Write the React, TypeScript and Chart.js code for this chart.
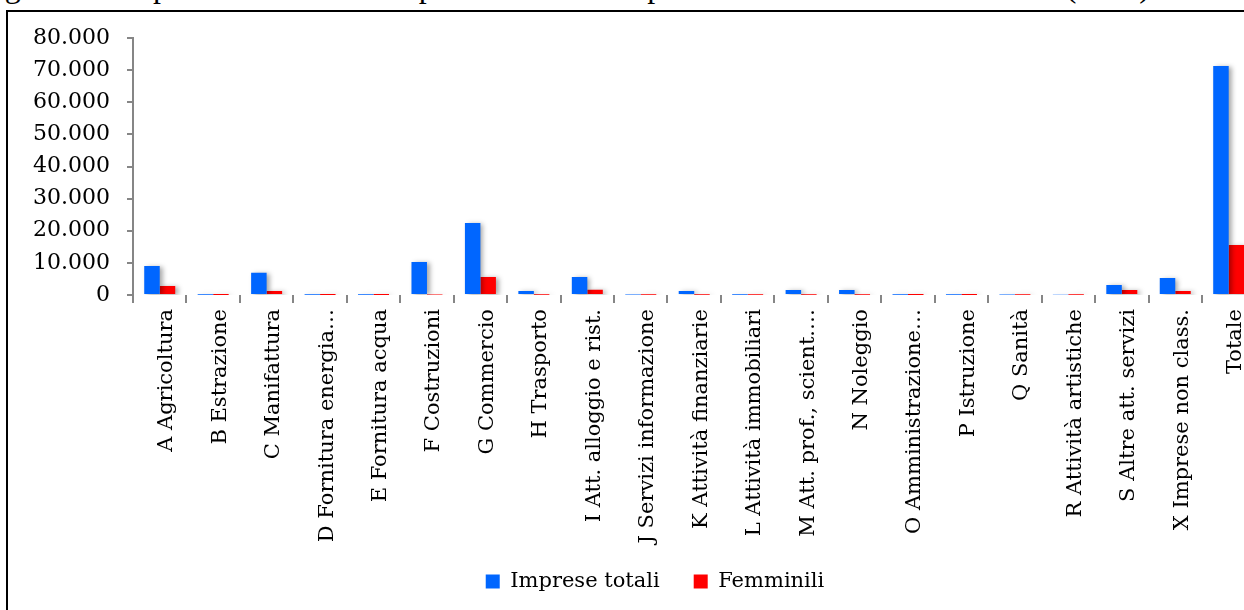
import React, { useEffect, useRef } from 'react';
import { Chart, registerables } from 'chart.js';

Chart.register(...registerables);

const categories = [
  'A Agricoltura',
  'B Estrazione',
  'C Manifattura',
  'D Fornitura energia…',
  'E Fornitura acqua',
  'F Costruzioni',
  'G Commercio',
  'H Trasporto',
  'I Att. alloggio e rist.',
  'J Servizi informazione',
  'K Attività finanziarie',
  'L Attività immobiliari',
  'M Att. prof., scient.…',
  'N Noleggio',
  'O Amministrazione…',
  'P Istruzione',
  'Q Sanità',
  'R Attività artistiche',
  'S Altre att. servizi',
  'X Imprese non class.',
  'Totale',
];

const impreseTotali = [
  9000, 60, 6900, 40, 80, 10300, 22400, 1250, 5600, 150, 1250, 100, 1550, 1550, 50, 80, 120, 200, 3100, 5300, 71300,
];

const femminili = [
  2800, 10, 1250, 10, 10, 150, 5600, 100, 1600, 60, 100, 40, 60, 60, 20, 30, 50, 80, 1550, 1250, 15600,
];

const seriesNames = ['Imprese totali', 'Femminili'];
const seriesColors = ['#0066FF', '#FF0000'];

const yTickValues = [0, 10000, 20000, 30000, 40000, 50000, 60000, 70000, 80000];
const yTickLabels = ['0', '10.000', '20.000', '30.000', '40.000', '50.000', '60.000', '70.000', '80.000'];

const titleText = 'Figura 1 – Imprese femminili e imprese totali attive per settore di attività economica (2011).';

export default function App() {
  const canvasRef = useRef<HTMLCanvasElement>(null);

  useEffect(() => {
    if (!canvasRef.current) return;
    const shadowPlugin = {
      id: 'barShadow',
      beforeDatasetsDraw(chart: any) {
        const c = chart.ctx;
        c.save();
        c.shadowColor = 'rgba(0,0,0,0.35)';
        c.shadowBlur = 5;
        c.shadowOffsetX = 3;
        c.shadowOffsetY = 1;
      },
      afterDatasetsDraw(chart: any) {
        chart.ctx.restore();
      },
    };
    const layoutTweak = {
      id: 'layoutTweak',
      afterLayout(chart: any) {
        const lg = chart.legend;
        if (lg) {
          lg.left += 12;
          lg.right += 12;
        }
        const xs = chart.scales.x;
        if (xs) xs.bottom = chart.height;
      },
    };

    const chart = new Chart(canvasRef.current, {
      type: 'bar',
      data: {
        labels: categories,
        datasets: [
          { label: seriesNames[0], data: impreseTotali, backgroundColor: seriesColors[0], borderWidth: 0 },
          { label: seriesNames[1], data: femminili, backgroundColor: seriesColors[1], borderWidth: 0 },
        ],
      },
      options: {
        responsive: false,
        animation: false,
        devicePixelRatio: 1,
        layout: { padding: { left: 30, right: 4, top: 38, bottom: 8 } },
        datasets: { bar: { barPercentage: 1, categoryPercentage: 0.58 } },
        plugins: {
          legend: {
            position: 'bottom',
            labels: {
              boxWidth: 14,
              boxHeight: 14,
              padding: 34,
              color: '#000',
              font: { family: 'DejaVu Serif', size: 21 },
            },
          },
          tooltip: { enabled: false },
        },
        scales: {
          x: {
            grid: {
              drawOnChartArea: false,
              drawTicks: true,
              tickLength: 8,
              color: '#868686',
              lineWidth: 2,
              offset: true,
            },
            border: { display: false },
            ticks: {
              autoSkip: false,
              maxRotation: 90,
              minRotation: 90,
              padding: 6,
              labelOffset: 7,
              color: '#000',
              font: { family: 'DejaVu Serif', size: 21 },
            },
            afterFit(scale: any) {
              scale.height = 242;
            },
          },
          y: {
            min: 0,
            max: 80000,
            afterBuildTicks(scale: any) {
              scale.ticks = yTickValues.map((v) => ({ value: v }));
            },
            grid: { drawOnChartArea: false, tickLength: 6, color: '#868686', lineWidth: 2 },
            border: { color: '#868686', width: 2 },
            ticks: {
              padding: 17,
              color: '#000',
              font: { family: 'DejaVu Serif', size: 22 },
              callback: (v: any) => yTickLabels[yTickValues.indexOf(Number(v))],
            },
            afterFit(scale: any) {
              scale.width = 103;
            },
          },
        },
      },
      plugins: [shadowPlugin, layoutTweak],
    } as any);

    return () => chart.destroy();
  }, []);

  return (
    <div
      style={{
        position: 'fixed',
        left: 0,
        top: 0,
        width: 1244,
        height: 610,
        overflow: 'hidden',
        background: '#fff',
      }}
    >
      <div
        style={{
          position: 'absolute',
          left: -22,
          top: -30,
          whiteSpace: 'nowrap',
          fontFamily: '"Liberation Serif", serif',
          fontSize: 32,
          lineHeight: '32px',
          color: '#000',
        }}
      >
        {titleText}
      </div>
      <div
        style={{
          position: 'absolute',
          left: 6,
          top: 10,
          width: 1400,
          height: 800,
          borderLeft: '2px solid #000',
          borderTop: '2px solid #000',
          background: '#fff',
        }}
      />
      <canvas
        ref={canvasRef}
        width={1260}
        height={610}
        style={{ position: 'absolute', left: 0, top: 0, display: 'block' }}
      />
    </div>
  );
}
